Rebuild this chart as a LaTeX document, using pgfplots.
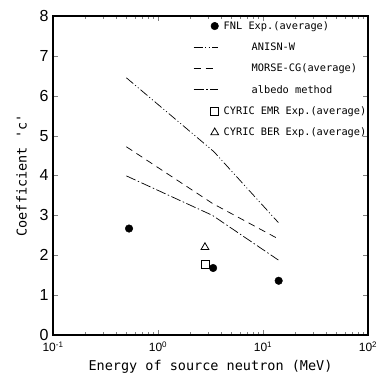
\documentclass[border=0pt]{standalone}
\usepackage{fontspec}
\setmainfont{Liberation Sans}
\newfontfamily\monof{DejaVu Sans Mono}
\usepackage{pgfplots}
\pgfplotsset{compat=1.18}
\pgfplotsset{
  lineleg/.style={legend image code/.code={\path[draw=none] (0pt,0pt) (24pt,0pt);\draw[##1] (0pt,0pt) -- (24pt,0pt);}},
  markleg/.style={legend image code/.code={\path[draw=none] (0pt,0pt) (24pt,0pt);\draw[##1,draw=none] (21pt,0pt) -- (21pt,0pt);\draw[##1] plot[only marks] coordinates {(21pt,0pt)};}},
}
\begin{document}
\begin{tikzpicture}
\begin{axis}[
  scale only axis, width=315pt, height=319pt,
  xmode=log, xmin=0.1, xmax=100, ymin=0, ymax=8,
  xtick={0.1,1,10,100},
  xticklabels={10\textsuperscript{-1},10\textsuperscript{0},10\textsuperscript{1},10\textsuperscript{2}},
  ytick={0,1,...,8},
  yticklabels={0,1,2,3,4,5,6,7,8},
  x tick label style={font=\fontsize{12}{14}\selectfont, yshift=-3pt},
  y tick label style={font=\fontsize{16}{18}\selectfont, xshift=-1pt},
  tick align=inside, major tick length=5pt, minor tick length=3pt,
  axis line style={line width=1.1pt},
  xlabel={\monof\fontsize{13.5}{15}\selectfont Energy of source neutron (MeV)},
  ylabel={\monof\fontsize{13.5}{15}\selectfont Coefficient 'c'},
  xlabel style={yshift=-2pt},
  ylabel style={yshift=6pt},
  legend style={draw=none, fill=none, font=\monof\fontsize{10.3}{11}\selectfont,
    at={(rel axis cs:0.445,0.99)}, anchor=north west, row sep=8pt, inner sep=0pt},
  legend cell align=left,
]
\addplot[only marks, mark=*, mark size=3.8pt, black, markleg] coordinates {(0.53,2.67) (3.35,1.68) (14.1,1.36)};
\addlegendentry{\hspace*{3pt}FNL Exp.(average)}
\addplot[black, line width=0.7pt, dash pattern=on 9pt off 2.5pt on 1pt off 2.5pt on 1pt off 2.5pt, lineleg] coordinates {(0.5,6.45) (3.4,4.6) (14,2.82)};
\addlegendentry{\hspace*{31pt}ANISN-W}
\addplot[black, line width=0.7pt, dash pattern=on 7pt off 5pt, lineleg] coordinates {(0.5,4.72) (3.3,3.3) (14,2.41)};
\addlegendentry{\hspace*{31pt}MORSE-CG(average)}
\addplot[black, line width=0.7pt, dash pattern=on 10pt off 2.5pt on 1.5pt off 2.5pt, lineleg] coordinates {(0.5,3.99) (3.3,3.0) (14,1.88)};
\addlegendentry{\hspace*{31pt}albedo method}
\addplot[only marks, mark=square, mark size=4pt, black, line width=0.8pt, markleg] coordinates {(2.8,1.78)};
\addlegendentry{\hspace*{3pt}CYRIC EMR Exp.(average)}
\addplot[only marks, mark=triangle, mark size=4.5pt, black, line width=0.8pt, markleg] coordinates {(2.8,2.2)};
\addlegendentry{\hspace*{3pt}CYRIC BER Exp.(average)}
\coordinate (bl) at (rel axis cs:0,0);
\coordinate (tr) at (rel axis cs:1,1);
\end{axis}
\pgfresetboundingbox
\path ([xshift=-53pt,yshift=-45pt]bl) rectangle ([xshift=14pt,yshift=16pt]tr);
\end{tikzpicture}
\end{document}
